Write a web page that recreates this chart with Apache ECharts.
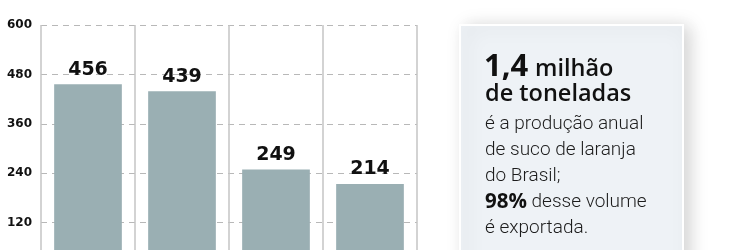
<!DOCTYPE html>
<html><head><meta charset="utf-8">
<script src="https://cdn.jsdelivr.net/npm/echarts@6/dist/echarts.min.js"></script>
<style>html,body{margin:0;padding:0;background:#fff;overflow:hidden;width:750px;height:250px}#c{width:750px;height:300px}</style>
</head><body><div id="c"></div>
<script>
const categories = ['A', 'B', 'C', 'D'];
const values = [456, 439, 249, 214];
const yTicks = { min: 0, max: 600, interval: 120 };
const headline = ['1,4', 'milhão', 'de toneladas'];
const bodyLines = ['é a produção anual', 'de suco de laranja', 'do Brasil;'];
const boldPct = '98%';
const tailLines = [' desse volume', 'é exportada.'];

const chart = echarts.init(document.getElementById('c'), null, { renderer: 'canvas' });
const bodyFont = '"Roboto", sans-serif';
function txt(text, x, baseline, size, font, extra) {
  return Object.assign({ type: 'text', x: x, y: baseline - size * 0.32, z: 2,
    style: Object.assign({ text: text, font: font.replace('%s', size + 'px'), fill: '#1c1c1c', verticalAlign: 'middle' }, extra || {}) });
}
chart.setOption({
  animation: false,
  grid: { left: 41, right: 333, top: 25, bottom: 28 },
  xAxis: {
    type: 'category', data: categories,
    axisLine: { show: false }, axisTick: { show: false }, axisLabel: { show: false },
    splitLine: { show: true, lineStyle: { color: '#c4c4c4', width: 1.5 } }
  },
  yAxis: {
    type: 'value', min: yTicks.min, max: yTicks.max, interval: yTicks.interval,
    axisLine: { show: false }, axisTick: { show: false },
    axisLabel: { color: '#111', fontWeight: 'bold', fontSize: 12, fontFamily: 'DejaVu Sans', margin: 9 },
    splitLine: { lineStyle: { color: '#b8b8b8', type: [6, 5], width: 1.2 } }
  },
  series: [{
    type: 'bar', data: values, barCategoryGap: '28%',
    itemStyle: { color: '#9aafb3' },
    label: { show: true, position: 'top', distance: 5, color: '#111', fontWeight: 'bold', fontSize: 19, fontFamily: 'DejaVu Sans' }
  }],
  graphic: [
    { type: 'rect', shape: { x: 460, y: 25, width: 223, height: 260 },
      style: { fill: '#eef2f6', stroke: '#ffffff', lineWidth: 2, shadowBlur: 18, shadowColor: 'rgba(0,0,0,0.18)', shadowOffsetX: 6, shadowOffsetY: 2 }, z: 1 },
    txt(headline[0], 484, 77, 31, 'bold %s "Open Sans"', { fill: '#111' }),
    txt(headline[1], 535, 77, 23.5, '600 %s "Open Sans"', { fill: '#111' }),
    txt(headline[2], 485, 102, 23.5, '600 %s "Open Sans"', { fill: '#111' }),
    txt(bodyLines[0], 485, 130, 19, '300 %s ' + bodyFont),
    txt(bodyLines[1], 485, 156, 19, '300 %s ' + bodyFont),
    txt(bodyLines[2], 485, 182, 19, '300 %s ' + bodyFont),
    txt('{b|' + boldPct + '}' + tailLines[0], 485, 208, 19, '300 %s ' + bodyFont,
      { rich: { b: { font: 'bold 20.5px "Open Sans"', fill: '#111', verticalAlign: 'middle' } } }),
    txt(tailLines[1], 485, 234, 19, '300 %s ' + bodyFont)
  ]
});
</script></body></html>
